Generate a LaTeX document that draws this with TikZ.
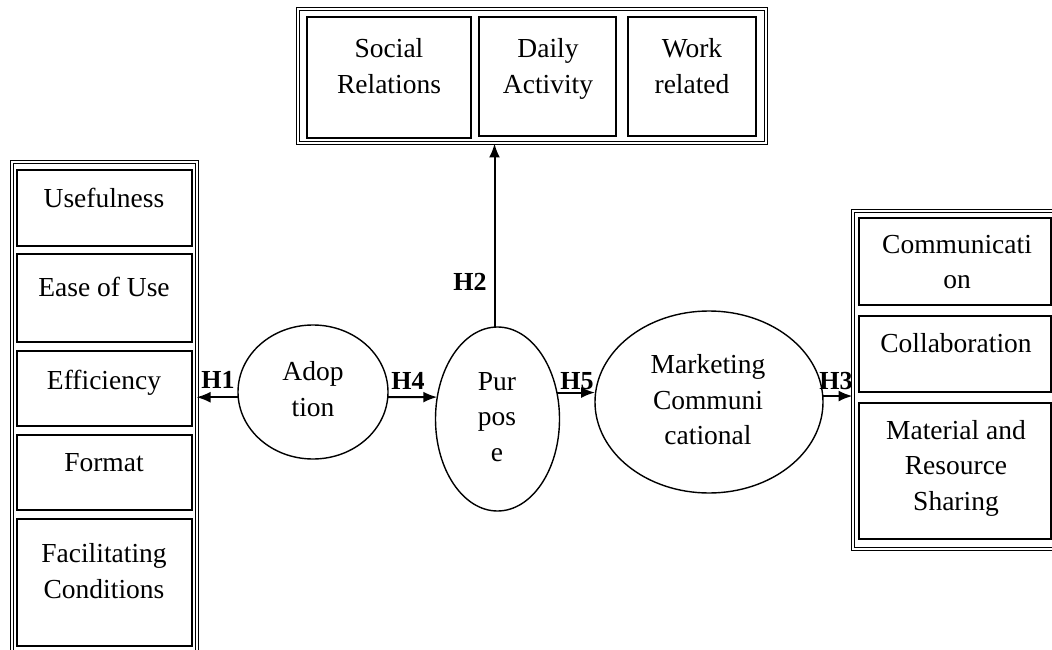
\documentclass[tikz,border=0pt]{standalone}
\usepackage{fontspec}
\setmainfont{Liberation Serif}
\usetikzlibrary{shapes.geometric,arrows.meta}
\begin{document}
\begin{tikzpicture}[x=1pt,y=-1pt,
  container/.style={draw, double, double distance=2pt, line width=1pt, fill=white,
    inner sep=0pt, outer sep=0pt},
  itembox/.style={draw, line width=2pt, inner sep=0pt, outer sep=0pt},
  bubble/.style={ellipse, draw, line width=1.4pt, inner sep=0pt, outer sep=0pt},
  txt/.style={align=center, inner sep=0pt, font=\fontsize{27.5}{35.5}\selectfont},
  hyp/.style={inner sep=0pt, font=\bfseries\fontsize{26}{30}\selectfont},
  link/.style={-{Latex[length=14pt,width=11pt]}, line width=2pt}]
\useasboundingbox (0,0) rectangle (1052,650);
\clip (0,0) rectangle (1052,650);

% hypothesis labels (drawn first so the frames sit over them)
\node[hyp] (h1) at (218,380) {H1};
\node[hyp] (h4) at (408,381) {H4};
\node[hyp] (h5) at (577,381) {H5};
\node[hyp] (h3) at (836,381) {H3};
\node[hyp] (h2) at (470,282) {H2};

% left group
\node[container, minimum width=185pt, minimum height=500.5pt] (leftC) at (104,411.75) {};
\node[itembox, minimum width=175pt, minimum height=76pt]  (useful) at (104.5,208) {};
\node[itembox, minimum width=175pt, minimum height=88pt]  (ease)   at (104.5,298) {};
\node[itembox, minimum width=175pt, minimum height=75pt]  (effic)  at (104.5,388.5) {};
\node[itembox, minimum width=175pt, minimum height=75pt]  (format) at (104.5,472.5) {};
\node[itembox, minimum width=175pt, minimum height=127pt] (facil)  at (104.5,582.5) {};
\node[txt] (usefulT) at (104,198) {Usefulness};
\node[txt] (easeT)   at (104,287) {Ease of Use};
\node[txt] (efficT)  at (104,383) {Efficiency};
\node[txt] (formatT) at (104,463) {Format};
\node[txt] (facilT)  at (104,571) {Facilitating\\Conditions};

% top group
\node[container, minimum width=468pt, minimum height=134pt] (topC) at (531.5,76.5) {};
\node[itembox, minimum width=164pt, minimum height=121pt] (social) at (389,77.5) {};
\node[itembox, minimum width=137pt, minimum height=119pt] (daily)  at (547.5,76.5) {};
\node[itembox, minimum width=128pt, minimum height=119pt] (work)   at (692,76.5) {};
\node[txt] (socialT) at (389,66) {Social\\Relations};
\node[txt] (dailyT)  at (548,69) {Daily\\Activity};
\node[txt] (workT)   at (692,66) {Work\\related};

% right group
\node[container, minimum width=209.5pt, minimum height=338pt] (rightC) at (957.25,379.5) {};
\node[itembox, minimum width=191.5pt, minimum height=87pt]  (comm)   at (954.75,261.5) {};
\node[itembox, minimum width=191.5pt, minimum height=76pt]  (collab) at (954.75,354) {};
\node[itembox, minimum width=191.5pt, minimum height=136pt] (mater)  at (954.75,471) {};
\node[txt] (commT)   at (957,262) {Communicati\\on};
\node[txt] (collabT) at (956,343) {Collaboration};
\node[txt] (materT)  at (956,468) {Material and\\Resource\\Sharing};

% constructs
\node[bubble, minimum width=150pt, minimum height=134pt] (adoption)  at (313,392) {};
\node[bubble, minimum width=124pt, minimum height=184pt] (purpose)   at (497.5,419) {};
\node[bubble, minimum width=228pt, minimum height=182pt] (marketing) at (709,402) {};
\node[txt] (adoptionT)  at (313,389) {Adop\\tion};
\node[txt] (purposeT)   at (497,417) {Pur\\pos\\e};
\node[txt] (marketingT) at (708,400) {Marketing\\Communi\\cational};

% hypothesised paths
\draw[link] (adoption.184) -- (adoption.184 -| leftC.east);
\draw[link] (adoption.-4) -- (purpose.160);
\draw[link] (purpose.24) -- (purpose.24 -| marketing.west);
\draw[link] (marketing.3) -- (marketing.3 -| rightC.west);
\draw[link] ([xshift=-3pt]purpose.north) -- ([xshift=-3pt]purpose.north |- topC.south);
\end{tikzpicture}
\end{document}
